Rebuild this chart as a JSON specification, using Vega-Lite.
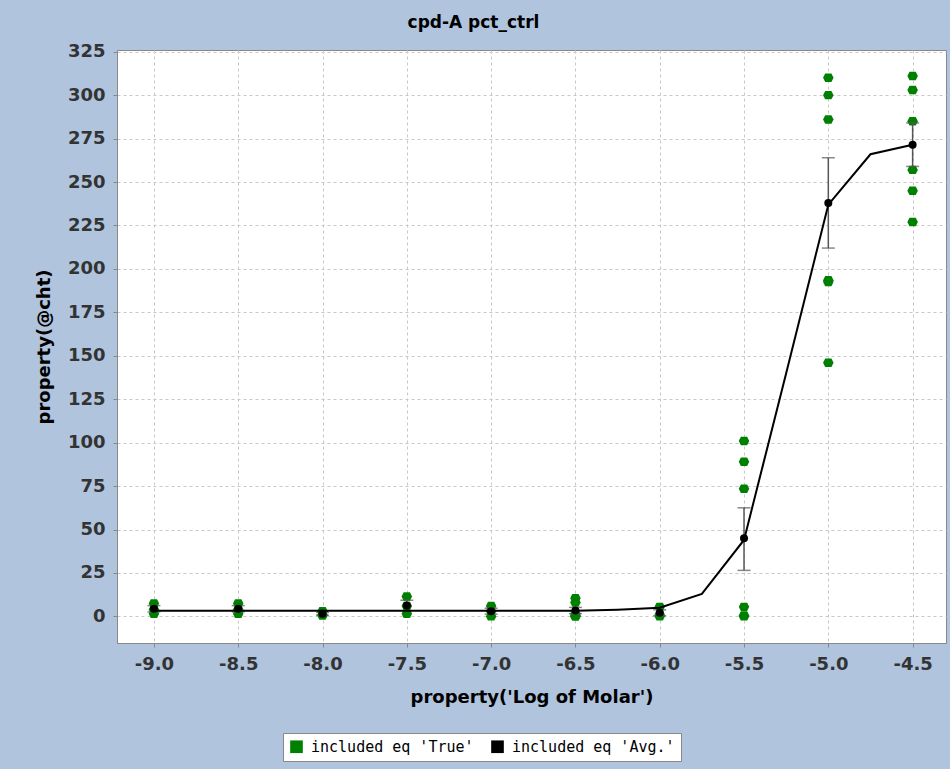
{
  "$schema": "https://vega.github.io/schema/vega-lite/v6.json",
  "width": 829,
  "height": 593,
  "autosize": {"type": "none"},
  "padding": {"left": 117, "top": 50, "right": 4, "bottom": 126},
  "background": "#B0C4DE",
  "title": {"text": "cpd-A pct_ctrl", "font": "DejaVu Sans", "fontSize": 17, "fontWeight": "bold", "color": "#000000", "anchor": "middle", "dx": -58, "offset": 11},
  "datasets": {
    "pts": [
      {"x": -9.0, "y": 7.5, "series": "included eq 'True'"},
      {"x": -9.0, "y": 4, "series": "included eq 'True'"},
      {"x": -9.0, "y": 1.5, "series": "included eq 'True'"},
      {"x": -8.5, "y": 7.5, "series": "included eq 'True'"},
      {"x": -8.5, "y": 4, "series": "included eq 'True'"},
      {"x": -8.5, "y": 1.5, "series": "included eq 'True'"},
      {"x": -8.0, "y": 3, "series": "included eq 'True'"},
      {"x": -8.0, "y": 1, "series": "included eq 'True'"},
      {"x": -8.0, "y": 0.5, "series": "included eq 'True'"},
      {"x": -7.5, "y": 11.5, "series": "included eq 'True'"},
      {"x": -7.5, "y": 6, "series": "included eq 'True'"},
      {"x": -7.5, "y": 1.5, "series": "included eq 'True'"},
      {"x": -7.0, "y": 6, "series": "included eq 'True'"},
      {"x": -7.0, "y": 3, "series": "included eq 'True'"},
      {"x": -7.0, "y": 0, "series": "included eq 'True'"},
      {"x": -6.5, "y": 10.5, "series": "included eq 'True'"},
      {"x": -6.5, "y": 8, "series": "included eq 'True'"},
      {"x": -6.5, "y": 1.5, "series": "included eq 'True'"},
      {"x": -6.5, "y": 0, "series": "included eq 'True'"},
      {"x": -6.5, "y": 0, "series": "included eq 'True'"},
      {"x": -6.5, "y": 0.5, "series": "included eq 'True'"},
      {"x": -6.0, "y": 5.5, "series": "included eq 'True'"},
      {"x": -6.0, "y": 1, "series": "included eq 'True'"},
      {"x": -6.0, "y": 0, "series": "included eq 'True'"},
      {"x": -5.5, "y": 101, "series": "included eq 'True'"},
      {"x": -5.5, "y": 89, "series": "included eq 'True'"},
      {"x": -5.5, "y": 73.5, "series": "included eq 'True'"},
      {"x": -5.5, "y": 5.5, "series": "included eq 'True'"},
      {"x": -5.5, "y": 0.5, "series": "included eq 'True'"},
      {"x": -5.5, "y": 0, "series": "included eq 'True'"},
      {"x": -5.0, "y": 310, "series": "included eq 'True'"},
      {"x": -5.0, "y": 300, "series": "included eq 'True'"},
      {"x": -5.0, "y": 286, "series": "included eq 'True'"},
      {"x": -5.0, "y": 193.5, "series": "included eq 'True'"},
      {"x": -5.0, "y": 192.5, "series": "included eq 'True'"},
      {"x": -5.0, "y": 146, "series": "included eq 'True'"},
      {"x": -4.5, "y": 311, "series": "included eq 'True'"},
      {"x": -4.5, "y": 303, "series": "included eq 'True'"},
      {"x": -4.5, "y": 285, "series": "included eq 'True'"},
      {"x": -4.5, "y": 257, "series": "included eq 'True'"},
      {"x": -4.5, "y": 245, "series": "included eq 'True'"},
      {"x": -4.5, "y": 227, "series": "included eq 'True'"}
    ],
    "avg": [
      {"x": -9.0, "y": 4.4, "lo": 2.6, "hi": 6.2, "series": "included eq 'Avg.'"},
      {"x": -8.5, "y": 4.4, "lo": 2.6, "hi": 6.2, "series": "included eq 'Avg.'"},
      {"x": -8.0, "y": 1.5, "lo": 0.7, "hi": 2.3, "series": "included eq 'Avg.'"},
      {"x": -7.5, "y": 6.3, "lo": 3.3, "hi": 9.3, "series": "included eq 'Avg.'"},
      {"x": -7.0, "y": 3.0, "lo": 1.3, "hi": 4.7, "series": "included eq 'Avg.'"},
      {"x": -6.5, "y": 3.4, "lo": 1.6, "hi": 5.2, "series": "included eq 'Avg.'"},
      {"x": -6.0, "y": 2.1, "lo": 0.4, "hi": 3.8, "series": "included eq 'Avg.'"},
      {"x": -5.5, "y": 45, "lo": 26.5, "hi": 62.5, "series": "included eq 'Avg.'"},
      {"x": -5.0, "y": 238, "lo": 212, "hi": 264, "series": "included eq 'Avg.'"},
      {"x": -4.5, "y": 271.4, "lo": 259, "hi": 284, "series": "included eq 'Avg.'"}
    ],
    "fit": [
      {"x": -9.0, "y": 3.2},
      {"x": -8.75, "y": 3.2},
      {"x": -8.5, "y": 3.2},
      {"x": -8.25, "y": 3.2},
      {"x": -8.0, "y": 3.2},
      {"x": -7.75, "y": 3.2},
      {"x": -7.5, "y": 3.2},
      {"x": -7.25, "y": 3.2},
      {"x": -7.0, "y": 3.2},
      {"x": -6.75, "y": 3.2},
      {"x": -6.5, "y": 3.3},
      {"x": -6.25, "y": 3.9},
      {"x": -6.0, "y": 5.0},
      {"x": -5.75, "y": 13},
      {"x": -5.5, "y": 44},
      {"x": -5.25, "y": 140},
      {"x": -5.0, "y": 237},
      {"x": -4.75, "y": 266},
      {"x": -4.5, "y": 271.5}
    ]
  },
  "config": {
    "view": {"fill": "#ffffff", "stroke": "#888888", "strokeWidth": 1},
    "axis": {
      "labelFont": "DejaVu Sans",
      "labelFontSize": 18,
      "labelFontWeight": "bold",
      "labelColor": "#333333",
      "titleFont": "DejaVu Sans",
      "titleFontSize": 18,
      "titleFontWeight": "bold",
      "titleColor": "#000000",
      "tickSize": 4,
      "tickColor": "#888888",
      "domainColor": "#888888",
      "grid": true,
      "gridColor": "#c8c8c8",
      "gridDash": [3, 3],
      "gridWidth": 1
    },
    "legend": {
      "orient": "none",
      "legendX": 166,
      "legendY": 683,
      "direction": "horizontal",
      "fillColor": "#ffffff",
      "strokeColor": "#888888",
      "padding": 6,
      "labelFont": "DejaVu Sans Mono",
      "labelFontSize": 15,
      "labelLimit": 300,
      "labelColor": "#000000",
      "symbolType": "square",
      "symbolSize": 160,
      "symbolStrokeWidth": 0,
      "symbolOffset": 0,
      "labelOffset": 7,
      "columnPadding": 16,
      "titleFontSize": 0
    }
  },
  "layer": [
    {
      "data": {"name": "pts"},
      "mark": {"type": "point", "filled": true, "opacity": 1, "size": 110, "shape": "M -1 0 L -0.6 -0.8 L 0.6 -0.8 L 1 0 L 0.6 0.8 L -0.6 0.8 Z"},
      "encoding": {
        "x": {"field": "x", "type": "quantitative", "title": "property('Log of Molar')", "scale": {"domain": [-9.219, -4.302], "nice": false, "zero": false},
          "axis": {"values": [-9, -8.5, -8, -7.5, -7, -6.5, -6, -5.5, -5, -4.5], "labelExpr": "replace(format(datum.value, '.1f'), '\u2212', '-')", "labelPadding": 8, "titlePadding": 15}},
        "y": {"field": "y", "type": "quantitative", "title": "property(@cht)", "scale": {"domain": [-15.3, 326], "nice": false, "zero": false},
          "axis": {"values": [0, 25, 50, 75, 100, 125, 150, 175, 200, 225, 250, 275, 300, 325], "labelPadding": 8, "titlePadding": 14}},
        "color": {"field": "series", "type": "nominal", "scale": {"domain": ["included eq 'True'", "included eq 'Avg.'"], "range": ["#008000", "#000000"]}, "legend": {"title": null}}
      }
    },
    {
      "data": {"name": "avg"},
      "mark": {"type": "errorbar", "color": "#555555", "thickness": 1.5, "ticks": {"size": 13, "color": "#555555", "thickness": 1.5}},
      "encoding": {
        "x": {"field": "x", "type": "quantitative", "title": "property('Log of Molar')"},
        "y": {"field": "lo", "type": "quantitative", "title": "property(@cht)"},
        "y2": {"field": "hi"}
      }
    },
    {
      "data": {"name": "fit"},
      "mark": {"type": "line", "color": "#000000", "strokeWidth": 2},
      "encoding": {
        "x": {"field": "x", "type": "quantitative", "title": "property('Log of Molar')"},
        "y": {"field": "y", "type": "quantitative", "title": "property(@cht)"}
      }
    },
    {
      "data": {"name": "avg"},
      "mark": {"type": "point", "filled": true, "opacity": 1, "shape": "circle", "size": 64},
      "encoding": {
        "x": {"field": "x", "type": "quantitative", "title": "property('Log of Molar')"},
        "y": {"field": "y", "type": "quantitative", "title": "property(@cht)"},
        "color": {"field": "series", "type": "nominal"}
      }
    }
  ]
}
